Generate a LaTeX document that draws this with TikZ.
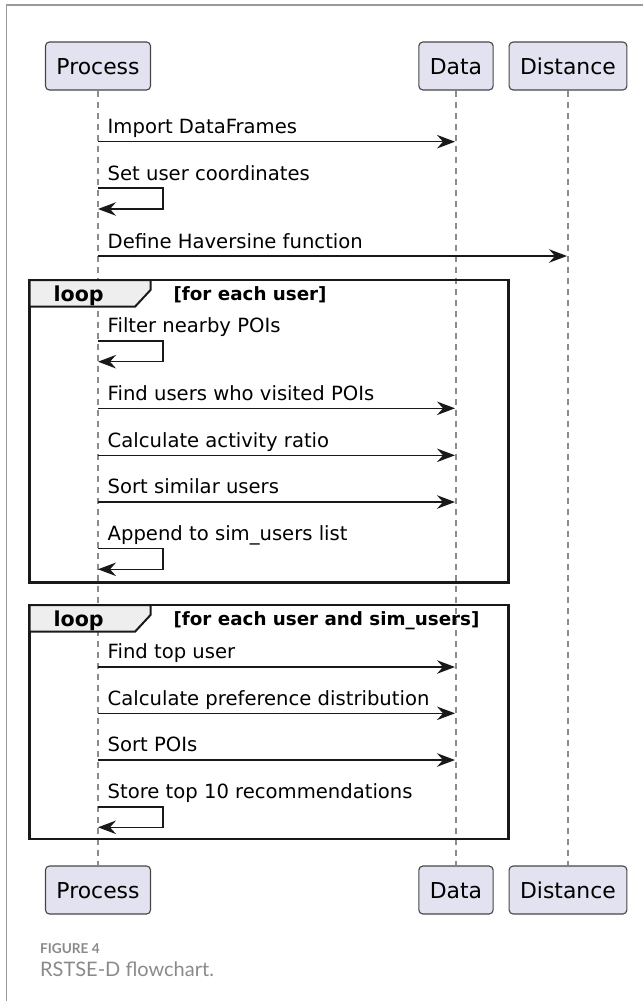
\documentclass[tikz,border=0pt]{standalone}
\usepackage{fontspec}
\setmainfont{DejaVu Sans}
\newfontfamily\capfont{Lato}
\usetikzlibrary{arrows.meta, positioning}

\definecolor{partfill}{HTML}{E2E2F0}
\definecolor{partdraw}{HTML}{181818}
\definecolor{tabfill}{HTML}{EEEEEE}
\definecolor{capgray}{HTML}{8A8A8A}
\definecolor{framegray}{HTML}{9A9A9A}

\begin{document}
\begin{tikzpicture}[
  x=1pt, y=-1pt,
  actor/.style={rectangle, draw=partdraw!80, fill=partfill, rounded corners=4pt, line width=1.1pt,
    inner xsep=11pt, inner ysep=16pt, text height=16pt, text depth=0pt,
    font=\fontsize{21.9}{26}\selectfont},
  life/.style={draw=gray!90, line width=1.2pt, dash pattern=on 6pt off 5pt},
  msg/.style={-{Stealth[length=18pt, width=13.5pt, inset=6pt]}, line width=1.5pt, black!90},
  lbl/.style={anchor=base west, inner sep=0pt, font=\fontsize{19.6}{24}\selectfont},
  frame/.style={draw=black!90, line width=2.6pt},
  tab/.style={draw=black!90, fill=tabfill, line width=2pt},
  looptxt/.style={anchor=base west, inner sep=0pt, font=\bfseries\fontsize{20.6}{24}\selectfont},
  guard/.style={anchor=base west, inner sep=0pt, font=\bfseries\fontsize{18.3}{22}\selectfont}
]
\useasboundingbox (0,0) rectangle (643,1001);

% Page frame
\draw[framegray, line width=1.5pt] (6.5,1001) -- (6.5,5) -- (643,5);

% Participants
\node[actor] (P)  at (98,66)  {Process};
\node[actor] (D)  at (456,66) {Data};
\node[actor] (H)  at (568,66) {Distance};
\node[actor] (Pb) at (98,890)  {Process};
\node[actor] (Db) at (456,890) {Data};
\node[actor] (Hb) at (568,890) {Distance};

% Lifelines
\draw[life] (P) -- (Pb);
\draw[life] (D) -- (Db);
\draw[life] (H) -- (Hb);

% Loop frames
\draw[frame] (29.5,280) rectangle (508.5,582.7);
\draw[tab] (29.5,280) -- (150.5,280) -- (150.5,290) -- (135,306.7) -- (29.5,306.7) -- cycle;
\node[looptxt] (L1) at (53.4,301) {loop};
\node[guard] (G1) at (173.4,300) {[for each user]};

\draw[frame] (29.5,605) rectangle (508.5,839);
\draw[tab] (29.5,605) -- (150.5,605) -- (150.5,615) -- (135,631.7) -- (29.5,631.7) -- cycle;
\node[looptxt] (L2) at (53.4,626) {loop};
\node[guard] (G2) at (173.4,625) {[for each user and sim\_users]};

% Anchor points on the lifelines
\coordinate (p1) at (98,141.7);  \coordinate (d1) at (455,141.7);
\coordinate (s2) at (98,188);    \coordinate (e2) at (98,209);
\coordinate (p3) at (98,256);    \coordinate (h3) at (567,256);
\coordinate (s4) at (98,341);    \coordinate (e4) at (98,361.7);
\coordinate (p5) at (98,408.3);  \coordinate (d5) at (455,408.3);
\coordinate (p6) at (98,455.3);  \coordinate (d6) at (455,455.3);
\coordinate (p7) at (98,502);    \coordinate (d7) at (455,502);
\coordinate (s8) at (98,548.7);  \coordinate (e8) at (98,569.3);
\coordinate (p9) at (98,667);    \coordinate (d9) at (455,667);
\coordinate (p10) at (98,713.3); \coordinate (d10) at (455,713.3);
\coordinate (p11) at (98,760);   \coordinate (d11) at (455,760);
\coordinate (s12) at (98,807);   \coordinate (e12) at (98,827.3);

% Messages
\node[lbl] (m1) at (107.5,133.3) {Import DataFrames};
\draw[msg] (p1) -- (d1);
\node[lbl] (m2) at (107.5,180) {Set user coordinates};
\draw[msg] (s2) -- ++(65,0) |- (e2);
\node[lbl] (m3) at (107.5,248) {Define Haversine function};
\draw[msg] (p3) -- (h3);

% First loop
\node[lbl] (m4) at (107.5,332.7) {Filter nearby POIs};
\draw[msg] (s4) -- ++(65,0) |- (e4);
\node[lbl] (m5) at (107.5,400) {Find users who visited POIs};
\draw[msg] (p5) -- (d5);
\node[lbl] (m6) at (107.5,447) {Calculate activity ratio};
\draw[msg] (p6) -- (d6);
\node[lbl] (m7) at (107.5,493.5) {Sort similar users};
\draw[msg] (p7) -- (d7);
\node[lbl] (m8) at (107.5,540) {Append to sim\_users list};
\draw[msg] (s8) -- ++(65,0) |- (e8);

% Second loop
\node[lbl] (m9) at (107.5,658.5) {Find top user};
\draw[msg] (p9) -- (d9);
\node[lbl] (m10) at (107.5,705) {Calculate preference distribution};
\draw[msg] (p10) -- (d10);
\node[lbl] (m11) at (107.5,751.7) {Sort POIs};
\draw[msg] (p11) -- (d11);
\node[lbl] (m12) at (107.5,798.5) {Store top 10 recommendations};
\draw[msg] (s12) -- ++(65,0) |- (e12);

% Caption
\node[anchor=base west, inner sep=0pt, text=capgray, font=\capfont\bfseries\fontsize{13.6}{16}\selectfont] (fig) at (40,953.3) {FIGURE 4};
\node[anchor=base west, inner sep=0pt, text=capgray, font=\capfont\fontsize{20}{24}\selectfont] (cap) at (40,976) {RSTSE-D flowchart.};

\end{tikzpicture}
\end{document}
